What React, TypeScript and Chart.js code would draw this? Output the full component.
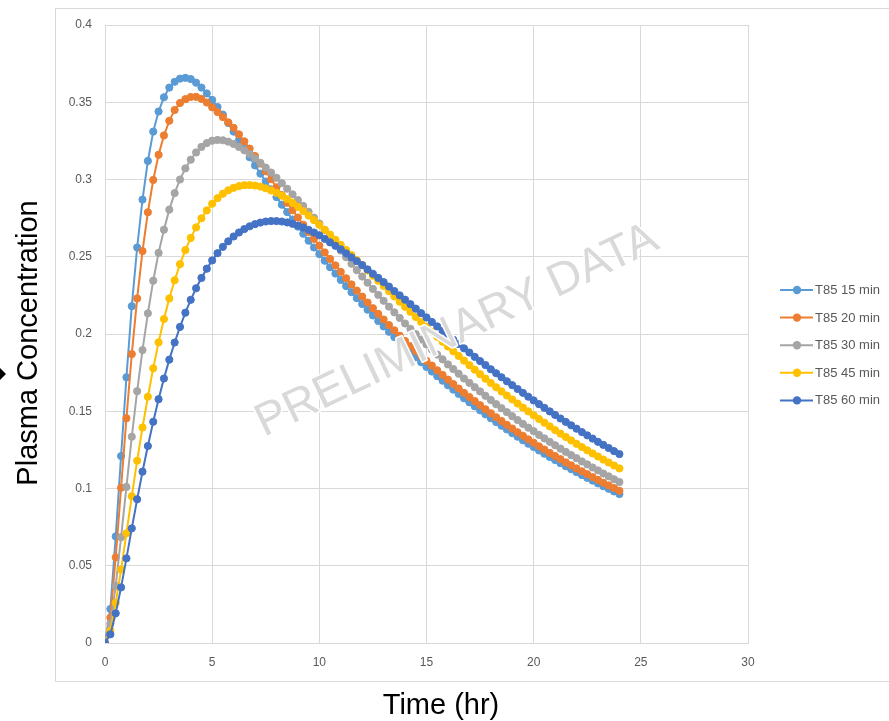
import React, { useEffect, useRef } from "react";
import { Chart, registerables } from "chart.js";

Chart.register(...registerables);

// Sampling times (hours), every 15 minutes from dosing to 24 h
const TIME_HR = [
  0, 0.25, 0.5, 0.75, 1, 1.25, 1.5, 1.75, 2, 2.25, 2.5, 2.75,
  3, 3.25, 3.5, 3.75, 4, 4.25, 4.5, 4.75, 5, 5.25, 5.5, 5.75,
  6, 6.25, 6.5, 6.75, 7, 7.25, 7.5, 7.75, 8, 8.25, 8.5, 8.75,
  9, 9.25, 9.5, 9.75, 10, 10.25, 10.5, 10.75, 11, 11.25, 11.5, 11.75,
  12, 12.25, 12.5, 12.75, 13, 13.25, 13.5, 13.75, 14, 14.25, 14.5, 14.75,
  15, 15.25, 15.5, 15.75, 16, 16.25, 16.5, 16.75, 17, 17.25, 17.5, 17.75,
  18, 18.25, 18.5, 18.75, 19, 19.25, 19.5, 19.75, 20, 20.25, 20.5, 20.75,
  21, 21.25, 21.5, 21.75, 22, 22.25, 22.5, 22.75, 23, 23.25, 23.5, 23.75,
  24,
];

// Simulated plasma concentration profiles by dissolution rate (T85)
const T85_15_MIN = [
  0, 0.022, 0.069, 0.121, 0.172, 0.218, 0.256, 0.287, 0.312, 0.331, 0.344, 0.3532,
  0.3595, 0.3632, 0.3653, 0.3658, 0.365, 0.3627, 0.3595, 0.3557, 0.3515, 0.3469, 0.342, 0.3366,
  0.331, 0.3254, 0.3199, 0.3144, 0.3091, 0.3038, 0.2987, 0.2936, 0.2886, 0.2837, 0.2789, 0.2741,
  0.2695, 0.2649, 0.2604, 0.256, 0.2517, 0.2474, 0.2432, 0.2391, 0.235, 0.231, 0.2271, 0.2232,
  0.2194, 0.2157, 0.212, 0.2084, 0.2049, 0.2014, 0.198, 0.1946, 0.1913, 0.1881, 0.1849, 0.1817,
  0.1787, 0.1757, 0.1727, 0.1698, 0.1668, 0.164, 0.1612, 0.1584, 0.1558, 0.1532, 0.1506, 0.148,
  0.1455, 0.143, 0.1406, 0.1382, 0.1358, 0.1335, 0.1312, 0.129, 0.1268, 0.1246, 0.1225, 0.1204,
  0.1184, 0.1164, 0.1144, 0.1125, 0.1106, 0.1087, 0.1069, 0.1051, 0.1033, 0.1015, 0.0998, 0.0981,
  0.0964,
];

const T85_20_MIN = [
  0, 0.0165, 0.0555, 0.1005, 0.1455, 0.187, 0.223, 0.2537, 0.2788, 0.2997, 0.316, 0.3285,
  0.338, 0.345, 0.3495, 0.352, 0.3534, 0.3535, 0.3522, 0.3498, 0.3467, 0.3437, 0.3404, 0.337,
  0.3335, 0.3292, 0.3247, 0.32, 0.3152, 0.3103, 0.3053, 0.3002, 0.295, 0.2899, 0.285, 0.2801,
  0.2754, 0.2707, 0.2661, 0.2616, 0.2572, 0.2528, 0.2486, 0.2444, 0.2402, 0.2361, 0.2321, 0.2281,
  0.2242, 0.2204, 0.2167, 0.213, 0.2094, 0.2058, 0.2024, 0.1989, 0.1955, 0.1922, 0.189, 0.1857,
  0.1826, 0.1796, 0.1765, 0.1735, 0.1705, 0.1676, 0.1647, 0.1619, 0.1592, 0.1566, 0.1539, 0.1513,
  0.1487, 0.1461, 0.1437, 0.1412, 0.1388, 0.1364, 0.1341, 0.1318, 0.1296, 0.1273, 0.1252, 0.123,
  0.121, 0.119, 0.1169, 0.115, 0.113, 0.1111, 0.1093, 0.1074, 0.1056, 0.1037, 0.102, 0.1003,
  0.0985,
];

const T85_30_MIN = [
  0, 0.0125, 0.037, 0.0685, 0.101, 0.1335, 0.163, 0.1896, 0.2134, 0.2345, 0.2525, 0.2675,
  0.2805, 0.2912, 0.3, 0.3072, 0.3128, 0.3175, 0.3211, 0.3236, 0.3251, 0.3256, 0.3254, 0.3245,
  0.323, 0.3211, 0.3189, 0.3164, 0.3137, 0.3108, 0.3077, 0.3045, 0.3011, 0.2976, 0.294, 0.2904,
  0.2867, 0.2829, 0.2791, 0.2753, 0.2715, 0.2674, 0.2629, 0.2585, 0.254, 0.2497, 0.2455, 0.2413,
  0.2372, 0.2332, 0.2292, 0.2253, 0.2215, 0.2177, 0.214, 0.2104, 0.2068, 0.2033, 0.1999, 0.1964,
  0.1932, 0.1899, 0.1867, 0.1836, 0.1803, 0.1773, 0.1743, 0.1712, 0.1684, 0.1656, 0.1628, 0.16,
  0.1573, 0.1546, 0.152, 0.1494, 0.1468, 0.1443, 0.1418, 0.1394, 0.1371, 0.1347, 0.1324, 0.1302,
  0.128, 0.1258, 0.1237, 0.1216, 0.1196, 0.1175, 0.1156, 0.1136, 0.1117, 0.1097, 0.1079, 0.106,
  0.1042,
];

const T85_45_MIN = [
  0, 0.008, 0.026, 0.0475, 0.071, 0.095, 0.118, 0.1395, 0.1594, 0.1778, 0.1946, 0.2097,
  0.223, 0.2348, 0.2452, 0.2543, 0.2622, 0.269, 0.2749, 0.28, 0.2843, 0.2879, 0.2908, 0.293,
  0.2946, 0.2957, 0.2963, 0.2964, 0.2961, 0.2954, 0.2943, 0.2929, 0.2914, 0.2895, 0.2873, 0.2849,
  0.2823, 0.2796, 0.2767, 0.2737, 0.2706, 0.2675, 0.2643, 0.261, 0.2577, 0.2544, 0.2511, 0.2478,
  0.2446, 0.2411, 0.2377, 0.2344, 0.2311, 0.2277, 0.2243, 0.2209, 0.2176, 0.2143, 0.211, 0.2077,
  0.2046, 0.2014, 0.1982, 0.195, 0.1919, 0.1888, 0.1858, 0.1828, 0.1798, 0.1769, 0.174, 0.1711,
  0.1683, 0.1655, 0.1628, 0.1602, 0.1576, 0.155, 0.1524, 0.1499, 0.1474, 0.145, 0.1426, 0.1402,
  0.1378, 0.1355, 0.1333, 0.1311, 0.1289, 0.1268, 0.1247, 0.1227, 0.1207, 0.1187, 0.1168, 0.1149,
  0.113,
];

const T85_60_MIN = [
  0, 0.0056, 0.0192, 0.036, 0.0548, 0.0742, 0.093, 0.1109, 0.1275, 0.1432, 0.1578, 0.1712,
  0.1834, 0.1945, 0.2046, 0.2138, 0.2221, 0.2296, 0.2363, 0.2423, 0.2476, 0.2523, 0.2564, 0.26,
  0.2631, 0.2657, 0.2679, 0.2697, 0.2711, 0.2721, 0.2728, 0.2731, 0.2731, 0.2728, 0.2722, 0.2713,
  0.2702, 0.2689, 0.2674, 0.2657, 0.2639, 0.2616, 0.2593, 0.2571, 0.2548, 0.2522, 0.2496, 0.2471,
  0.2446, 0.2418, 0.239, 0.2363, 0.2336, 0.2307, 0.2278, 0.225, 0.2222, 0.2193, 0.2164, 0.2135,
  0.2107, 0.2078, 0.2049, 0.202, 0.1992, 0.1963, 0.1935, 0.1907, 0.188, 0.1852, 0.1825, 0.1799,
  0.1772, 0.1746, 0.172, 0.1694, 0.1669, 0.1644, 0.1619, 0.1594, 0.157, 0.1546, 0.1522, 0.1499,
  0.1476, 0.1453, 0.1431, 0.1409, 0.1387, 0.1365, 0.1344, 0.1323, 0.1302, 0.1282, 0.1262, 0.1242,
  0.1223,
];

const SERIES_NAMES = ["T85 15 min", "T85 20 min", "T85 30 min", "T85 45 min", "T85 60 min"];
const SERIES_VALUES = [T85_15_MIN, T85_20_MIN, T85_30_MIN, T85_45_MIN, T85_60_MIN];
const SERIES_COLORS = ["#5B9BD5", "#ED7D31", "#A5A5A5", "#FFC000", "#4472C4"];

const X_TITLE = "Time (hr)";
const Y_TITLE = "Plasma Concentration";
const WATERMARK = "PRELIMINARY DATA";

const FONT = '"Liberation Sans", Arial, sans-serif';
const GRID = "#d9d9d9";
const TICK = "#595959";

const decorPlugin = {
  id: "decor",
  beforeDraw(chart: any) {
    const ctx = chart.ctx;
    ctx.save();
    ctx.fillStyle = "#ffffff";
    ctx.fillRect(0, 0, chart.width, chart.height);
    // outer chart frame
    ctx.strokeStyle = GRID;
    ctx.lineWidth = 1;
    ctx.strokeRect(55.5, 8.5, chart.width, 673);
    ctx.restore();
  },
  afterDatasetsDraw(chart: any) {
    const ctx = chart.ctx;
    ctx.save();
    ctx.translate(457, 331);
    ctx.rotate((-25.5 * Math.PI) / 180);
    ctx.font = `46px ${FONT}`;
    ctx.textAlign = "center";
    ctx.textBaseline = "middle";
    ctx.lineJoin = "round";
    ctx.strokeStyle = "#ffffff";
    ctx.lineWidth = 3;
    ctx.strokeText(WATERMARK, 0, 0);
    ctx.fillStyle = "#d9d9d9";
    ctx.fillText(WATERMARK, 0, 0);
    ctx.restore();
  },
  afterDraw(chart: any) {
    const ctx = chart.ctx;
    ctx.save();
    // axis titles
    ctx.fillStyle = "#000000";
    ctx.font = `29px ${FONT}`;
    ctx.textAlign = "center";
    ctx.textBaseline = "middle";
    ctx.fillText(X_TITLE, 441, 706);
    ctx.save();
    ctx.translate(29, 343);
    ctx.rotate(-Math.PI / 2);
    ctx.fillText(Y_TITLE, 0, 0);
    ctx.restore();

    // small marker at the left edge
    ctx.beginPath();
    ctx.moveTo(-6, 374);
    ctx.lineTo(0, 368);
    ctx.lineTo(6, 374);
    ctx.lineTo(0, 380);
    ctx.closePath();
    ctx.fill();

    // legend
    ctx.font = `13px ${FONT}`;
    ctx.textAlign = "left";
    ctx.textBaseline = "middle";
    SERIES_NAMES.forEach((name, i) => {
      const y = 290 + i * 27.6;
      ctx.strokeStyle = SERIES_COLORS[i];
      ctx.lineWidth = 2;
      ctx.beginPath();
      ctx.moveTo(780, y);
      ctx.lineTo(813, y);
      ctx.stroke();
      ctx.fillStyle = SERIES_COLORS[i];
      ctx.beginPath();
      ctx.arc(797, y, 4.2, 0, Math.PI * 2);
      ctx.fill();
      ctx.fillStyle = TICK;
      ctx.fillText(name, 815, y + 0.5);
    });
    ctx.restore();
  },
};

export default function App() {
  const canvasRef = useRef<HTMLCanvasElement | null>(null);

  useEffect(() => {
    const canvas = canvasRef.current;
    if (!canvas) return;
    const datasets = SERIES_VALUES.map((values, i) => ({
      label: SERIES_NAMES[i],
      data: TIME_HR.map((t, j) => ({ x: t, y: values[j] })),
      borderColor: SERIES_COLORS[i],
      backgroundColor: SERIES_COLORS[i],
      pointBackgroundColor: SERIES_COLORS[i],
      pointBorderColor: SERIES_COLORS[i],
      pointRadius: 3.6,
      pointBorderWidth: 1,
      borderWidth: 2,
      tension: 0,
      fill: false,
      order: SERIES_NAMES.length - 1 - i,
    }));

    const chart = new Chart(canvas, {
      type: "line",
      data: { datasets },
      options: {
        responsive: false,
        animation: false,
        devicePixelRatio: 1,
        layout: { padding: { left: 55, top: 25, right: 141, bottom: 40 } },
        plugins: {
          legend: { display: false },
          tooltip: { enabled: false },
          title: { display: false },
        },
        scales: {
          x: {
            type: "linear",
            min: 0,
            max: 30,
            ticks: {
              stepSize: 5,
              padding: 12,
              color: TICK,
              font: { family: FONT, size: 12 },
              maxRotation: 0,
            },
            grid: { color: GRID, lineWidth: 1, drawTicks: false },
            border: { color: GRID },
            afterFit(scale: any) {
              scale.height = 38;
            },
          },
          y: {
            type: "linear",
            min: 0,
            max: 0.4,
            ticks: {
              stepSize: 0.05,
              padding: 13,
              color: TICK,
              font: { family: FONT, size: 12 },
              callback: (v: any) => String(Number(Number(v).toFixed(2))),
            },
            grid: { color: GRID, lineWidth: 1, drawTicks: false },
            border: { color: GRID },
            afterFit(scale: any) {
              scale.width = 50;
            },
          },
        },
      },
      plugins: [decorPlugin],
    } as any);

    return () => chart.destroy();
  }, []);

  return (
    <div
      style={{
        position: "fixed",
        left: 0,
        top: 0,
        width: 889,
        height: 721,
        background: "#ffffff",
        overflow: "hidden",
      }}
    >
      <canvas
        ref={canvasRef}
        width={889}
        height={721}
        style={{ display: "block", width: 889, height: 721 }}
      />
    </div>
  );
}
